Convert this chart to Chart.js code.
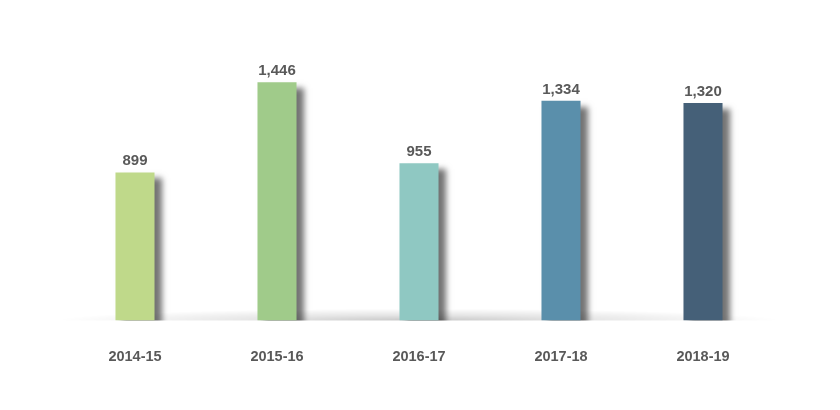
<!DOCTYPE html>
<html>
<head>
<meta charset="utf-8">
<script src="https://cdn.jsdelivr.net/npm/chart.js@4"></script>
<style>
html,body{margin:0;padding:0;background:#fff;}
#wrap{width:840px;height:410px;position:relative;}
</style>
</head>
<body>
<div id="wrap"><canvas id="c" width="840" height="410"></canvas></div>
<script>
const categories = ["2014-15", "2015-16", "2016-17", "2017-18", "2018-19"];
const values = [899, 1446, 955, 1334, 1320];
const barColors = ["#bfd98a", "#a0cb8a", "#8fc8c2", "#5a8fab", "#456078"];

const baselineGlow = {
  id: 'baselineGlow',
  beforeDatasetsDraw(chart) {
    const {ctx, chartArea} = chart;
    const cx = (chartArea.left + chartArea.right) / 2;
    const by = chartArea.bottom;
    const rx = (chartArea.right - chartArea.left) / 2 + 6;
    const ry = 12;
    ctx.save();
    ctx.beginPath();
    ctx.rect(0, by - ry, chart.width, ry);
    ctx.clip();
    ctx.translate(cx, by);
    ctx.scale(rx / ry, 1);
    const g = ctx.createRadialGradient(0, 0, 0, 0, 0, ry);
    g.addColorStop(0, 'rgba(0,0,0,0.22)');
    g.addColorStop(0.45, 'rgba(0,0,0,0.10)');
    g.addColorStop(1, 'rgba(0,0,0,0)');
    ctx.fillStyle = g;
    ctx.beginPath();
    ctx.arc(0, 0, ry, 0, Math.PI * 2);
    ctx.fill();
    ctx.restore();
  }
};

const barShadow = {
  id: 'barShadow',
  beforeDatasetDraw(chart) {
    const ctx = chart.ctx;
    ctx.save();
    ctx.shadowColor = 'rgba(0,0,0,0.55)';
    ctx.shadowBlur = 6;
    ctx.shadowOffsetX = 7;
    ctx.shadowOffsetY = 6;
  },
  afterDatasetDraw(chart) {
    chart.ctx.restore();
  }
};

const valueLabels = {
  id: 'valueLabels',
  afterDatasetsDraw(chart) {
    const ctx = chart.ctx;
    const meta = chart.getDatasetMeta(0);
    ctx.save();
    ctx.font = 'bold 15px "Liberation Sans", Arial, sans-serif';
    ctx.fillStyle = '#595959';
    ctx.textAlign = 'center';
    ctx.textBaseline = 'alphabetic';
    meta.data.forEach((el, i) => {
      ctx.fillText(values[i].toLocaleString('en-US'), el.x, el.y - 7);
    });
    ctx.restore();
  }
};

new Chart(document.getElementById('c'), {
  type: 'bar',
  data: {
    labels: categories,
    datasets: [{
      data: values,
      backgroundColor: barColors,
      borderWidth: 0,
      categoryPercentage: 1,
      barPercentage: 0.275
    }]
  },
  options: {
    responsive: false,
    animation: false,
    devicePixelRatio: 1,
    layout: { padding: { left: 64, right: 66, top: 24, bottom: 16 } },
    plugins: { legend: { display: false }, tooltip: { enabled: false } },
    scales: {
      x: {
        grid: { display: false, drawTicks: false },
        border: { display: false },
        ticks: {
          color: '#595959',
          padding: 28,
          font: { family: '"Liberation Sans", Arial, sans-serif', size: 14.5, weight: 'bold' }
        }
      },
      y: {
        display: false,
        min: 0,
        max: 1800
      }
    }
  },
  plugins: [baselineGlow, barShadow, valueLabels]
});
</script>
</body>
</html>
